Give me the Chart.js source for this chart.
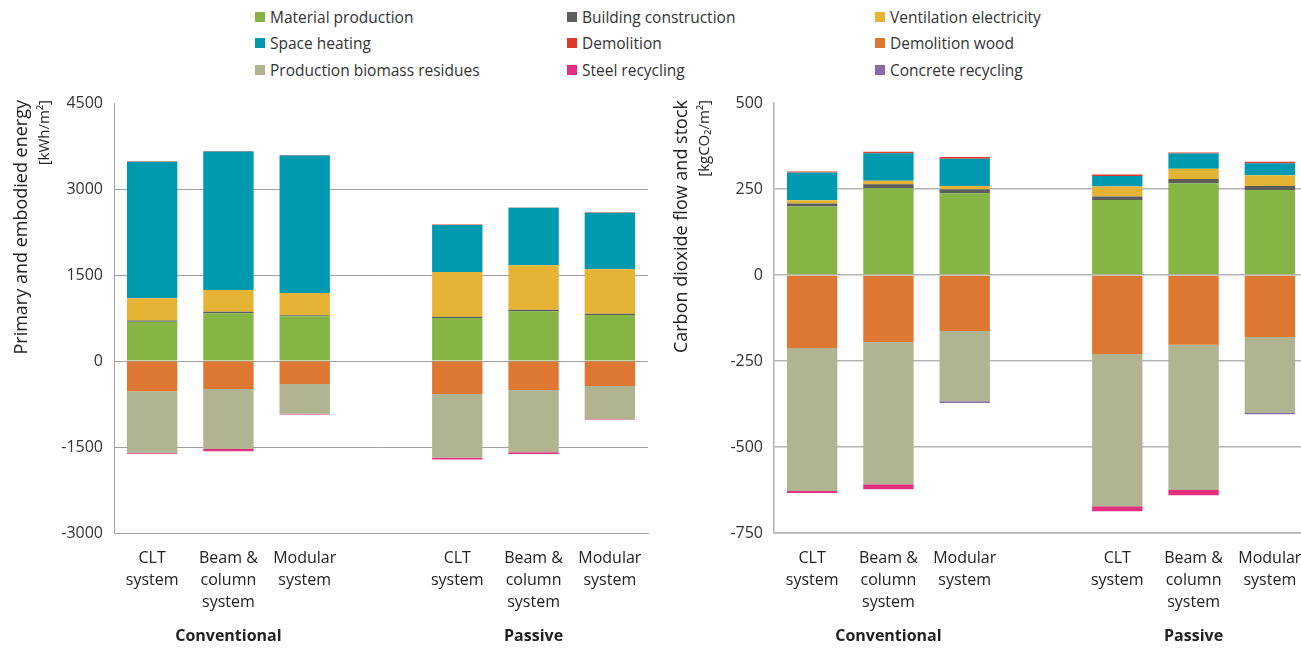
<!DOCTYPE html>
<html>
<head>
<meta charset="utf-8">
<script src="https://cdn.jsdelivr.net/npm/chart.js@4.4.1/dist/chart.umd.min.js"></script>
<style>
  html, body { margin: 0; padding: 0; background: #fff; overflow: hidden; }
  body { width: 1301px; height: 648px; position: relative; font-family: "Open Sans", sans-serif; }
  .box { position: absolute; top: 0; width: 660px; height: 648px; }
  .item { position: absolute; font-size: 15.5px; color: #333; line-height: 18px; white-space: nowrap; }
  .item span { position: absolute; left: -15px; top: 4px; width: 10px; height: 10px; }
</style>
</head>
<body>
<div id="legend"></div>
<div class="box" style="left:0"><canvas id="energyChart"></canvas></div>
<div class="box" style="left:660px"><canvas id="carbonChart"></canvas></div>
<script>
// categories (the empty one makes the gap between the two groups)
const categories = [['CLT', 'system'], ['Beam &', 'column', 'system'], ['Modular', 'system'], '',
                    ['CLT', 'system'], ['Beam &', 'column', 'system'], ['Modular', 'system']];
const groupNames = ['Conventional', 'Passive'];
const groupAt = [1, 5];

const seriesLabels = ['Material production', 'Building construction', 'Ventilation electricity',
                      'Space heating', 'Demolition', 'Demolition wood',
                      'Production biomass residues', 'Steel recycling', 'Concrete recycling'];
const seriesColors = ['#86b545', '#5b5e5a', '#e6b435', '#009ab0', '#e0392b', '#dd7731',
                      '#b0b490', '#e2307f', '#8a6aa6'];

// primary and embodied energy, kWh/m2
const energyMaterial      = [686, 832, 779, null, 751, 867, 804];
const energyConstruction  = [20, 25, 20, null, 22, 28, 22];
const energyVentilation   = [387, 380, 387, null, 779, 774, 774];
const energyHeating       = [2383, 2416, 2399, null, 821, 1002, 985];
const energyDemolition    = [10, 10, 10, null, 8, 8, 8];
const energyDemolitionWood = [-527, -487, -399, null, -575, -505, -434];
const energyBiomass       = [-1073, -1050, -522, null, -1113, -1085, -580];
const energySteel         = [-18, -35, -12, null, -30, -30, -12];
const energyConcrete      = [0, 0, 0, null, 0, 0, 0];

// carbon dioxide flow and stock, kgCO2/m2
const carbonMaterial      = [199, 252, 238, null, 218, 267, 247];
const carbonConstruction  = [9, 12, 11, null, 10, 12, 12];
const carbonVentilation   = [9, 10, 10, null, 29, 30, 31];
const carbonHeating       = [81, 80, 79, null, 31, 44, 35];
const carbonDemolition    = [3, 4, 5, null, 4, 3, 4];
const carbonDemolitionWood = [-212, -195, -163, null, -230, -203, -180];
const carbonBiomass       = [-416, -413, -204, null, -442, -422, -221];
const carbonSteel         = [-6, -15, 0, null, -15, -15, 0];
const carbonConcrete      = [0, 0, -5, null, 0, 0, -4];

const energyTicks = [-3000, -1500, 0, 1500, 3000, 4500];
const carbonTicks = [-750, -500, -250, 0, 250, 500];

// legend shared by both charts
const legendX = [270, 582, 890];
const legendY = [8, 34, 61];
const legend = document.getElementById('legend');
seriesLabels.forEach(function (lab, i) {
  const d = document.createElement('div');
  d.className = 'item';
  d.style.left = legendX[i % 3] + 'px';
  d.style.top = legendY[Math.floor(i / 3)] + 'px';
  d.innerHTML = '<span style="background:' + seriesColors[i] + '"></span>' + lab;
  legend.appendChild(d);
});

const extraText = {
  id: 'extraText',
  afterDraw(chart, args, opts) {
    const c = chart.ctx;
    const x = chart.scales.x;
    c.save();
    c.fillStyle = '#222';
    c.textBaseline = 'middle';
    c.textAlign = 'center';
    c.font = 'bold 16px "Open Sans"';
    groupNames.forEach(function (g, i) {
      c.fillText(g, x.getPixelForValue(groupAt[i]), 636);
    });
    c.translate(22, 100);
    c.rotate(-Math.PI / 2);
    c.textAlign = 'right';
    c.font = '18px "Open Sans"';
    c.fillText(opts.title, 0, 0);
    c.font = '15px "Open Sans"';
    c.fillText(opts.unit, 0, 23);
    c.restore();
  }
};

function makeChart(id, values, ticks, gridColor, gridWidth, title, unit) {
  const top = ticks[ticks.length - 1];
  return new Chart(document.getElementById(id), {
    type: 'bar',
    data: {
      labels: categories,
      datasets: values.map(function (v, i) {
        return { label: seriesLabels[i], data: v, backgroundColor: seriesColors[i], borderWidth: 0 };
      })
    },
    options: {
      responsive: true,
      maintainAspectRatio: false,
      animation: false,
      layout: { padding: { top: 103, right: 12, left: 0, bottom: 0 } },
      barPercentage: 0.66,
      categoryPercentage: 1,
      plugins: {
        legend: { display: false },
        tooltip: { enabled: false },
        extraText: { title: title, unit: unit }
      },
      scales: {
        x: {
          stacked: true,
          grid: { display: false },
          border: { display: true, color: gridColor, width: gridWidth },
          ticks: { color: '#222', font: { family: 'Open Sans', size: 16, lineHeight: 1.35 },
                   padding: 7, autoSkip: false, maxRotation: 0 },
          afterFit: function (s) { s.height = 115; }
        },
        y: {
          stacked: true,
          min: ticks[0],
          max: top,
          afterBuildTicks: function (s) { s.ticks = ticks.map(function (t) { return { value: t }; }); },
          grid: {
            drawTicks: false,
            lineWidth: gridWidth,
            color: function (ctx) { return ctx.tick && ctx.tick.value === top ? 'rgba(0,0,0,0)' : gridColor; }
          },
          border: { display: true, color: gridColor, width: gridWidth },
          ticks: { color: '#333', font: { family: 'Open Sans', size: 16 }, padding: 11,
                   callback: function (v) { return String(v); } },
          afterFit: function (s) { s.width = 114; }
        }
      }
    },
    plugins: [extraText]
  });
}

makeChart('energyChart',
  [energyMaterial, energyConstruction, energyVentilation, energyHeating, energyDemolition,
   energyDemolitionWood, energyBiomass, energySteel, energyConcrete],
  energyTicks, '#a0a0a0', 1, 'Primary and embodied energy', '[kWh/m\u00b2]');

makeChart('carbonChart',
  [carbonMaterial, carbonConstruction, carbonVentilation, carbonHeating, carbonDemolition,
   carbonDemolitionWood, carbonBiomass, carbonSteel, carbonConcrete],
  carbonTicks, '#b4b4b4', 1.5, 'Carbon dioxide flow and stock', '[kgCO\u2082/m\u00b2]');
</script>
</body>
</html>
